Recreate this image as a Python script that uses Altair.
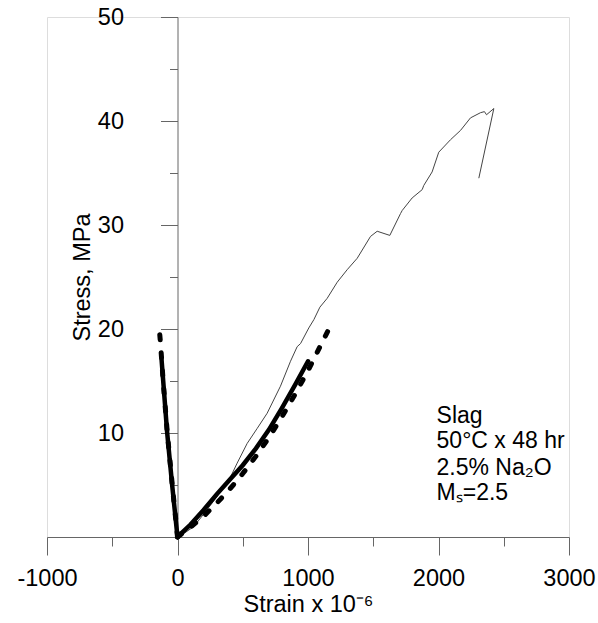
import altair as alt
import pandas as pd

FONT = "Liberation Sans"

# Thin experimental curve (axial strain)
thin_strain = [0, 50, 125, 200, 304, 400, 457, 534, 611, 687, 789, 866, 917, 943, 1006, 1045,
               1091, 1147, 1224, 1300, 1377, 1479, 1530, 1627, 1709, 1722, 1798, 1875, 1887,
               1951, 2002, 2092, 2169, 2245, 2322, 2352, 2368, 2424, 2309]
thin_stress = [0, 0.35, 1.0, 2.2, 3.9, 5.6, 7.1, 9.0, 10.45, 11.9, 14.5, 16.9, 18.3, 18.6, 20.1, 20.9,
               22.1, 22.95, 24.5, 25.7, 26.8, 28.9, 29.4, 29.0, 31.1, 31.4, 32.6, 33.4, 33.8,
               35.1, 37.0, 38.2, 39.1, 40.3, 40.8, 40.9, 40.6, 41.2, 34.5]

# Thick solid model curve
solid_axial_strain = [0, 100, 200, 300, 400, 500, 600, 700, 800, 900, 1000]
solid_axial_stress = [0, 1.2, 2.6, 4.1, 5.5, 6.9, 8.5, 10.3, 12.4, 14.6, 16.9]
solid_lateral_strain = [0, -41, -79, -123]
solid_lateral_stress = [0, 5.0, 10.0, 17.2]

# Thick dotted model curve
dot_axial_strain = [0, 100, 200, 300, 400, 500, 600, 700, 800, 900, 1000, 1100, 1180]
dot_axial_stress = [0, 0.95, 2.0, 3.25, 4.6, 6.1, 7.75, 9.55, 11.55, 13.7, 16.0, 18.5, 20.5]
dot_lateral_strain = [0, -40, -78, -110, -130, -143]
dot_lateral_stress = [0, 5.0, 10.0, 15.0, 18.6, 20.5]

note_lines = ["Slag", "50°C x 48 hr", "2.5% Na₂O", "Mₛ=2.5"]
note_strain = [1985, 1985, 1985, 1985]
note_stress = [10.96, 8.56, 5.96, 3.56]

x_ticks = [-1000, -500, 0, 500, 1000, 1500, 2000, 2500, 3000]
y_ticks = [5, 10, 15, 20, 25, 30, 35, 40, 45, 50]


def frame(xs, ys, name):
    return pd.DataFrame({"strain": xs, "stress": ys, "curve": name, "idx": list(range(len(xs)))})


x_scale = alt.Scale(domain=[-1000, 3000], nice=False, zero=False)
y_scale = alt.Scale(domain=[0, 50], nice=False, zero=False)

x_axis = alt.Axis(
    values=x_ticks,
    labelExpr="datum.value % 1000 === 0 ? '' + datum.value : ''",
    tickSize={"condition": {"test": "datum.value % 1000 === 0", "value": 18}, "value": 9},
    labelPadding=11,
    labelFont=FONT, labelFontSize=23.5, labelColor="#000",
    domainColor="#666", tickColor="#666", domainWidth=1, tickWidth=1,
    grid=False, labelFlush=False, labelOverlap=False,
    title="Strain x 10⁻⁶", titleFont=FONT, titleFontSize=23.5, titleFontWeight="normal",
    titleColor="#000", titleX=261, titleY=74, titleBaseline="alphabetic", titleAlign="center",
)
y_axis = alt.Axis(
    values=y_ticks,
    labelExpr="datum.value % 10 === 0 ? '' + datum.value : ''",
    tickSize={"condition": {"test": "datum.value % 10 === 0", "value": 17}, "value": 8},
    labelPadding=37, offset=-130.5,
    labelFont=FONT, labelFontSize=23.5, labelColor="#000",
    domainColor="#666", tickColor="#666", domainWidth=1, tickWidth=1,
    grid=False, labelOverlap=False, labelFlush=False,
    title="Stress, MPa", titleFont=FONT, titleFontSize=23.5, titleFontWeight="normal",
    titleColor="#000", titleX=-95, titleY=260, titleAngle=270,
    titleBaseline="middle", titleAlign="center",
)

thin = alt.Chart(frame(thin_strain, thin_stress, "thin")).mark_line(
    color="#444", strokeWidth=1
).encode(
    x=alt.X("strain:Q", scale=x_scale, axis=x_axis),
    y=alt.Y("stress:Q", scale=y_scale, axis=y_axis),
    order="idx:Q",
)


def dotted(xs, ys, name):
    return alt.Chart(frame(xs, ys, name)).mark_line(
        color="#000", strokeWidth=5, strokeDash=[5, 13], strokeCap="round"
    ).encode(x="strain:Q", y="stress:Q", order="idx:Q")


def solid(xs, ys, name):
    return alt.Chart(frame(xs, ys, name)).mark_line(
        color="#000", strokeWidth=4.5, strokeCap="round"
    ).encode(x="strain:Q", y="stress:Q", order="idx:Q")


notes = alt.Chart(pd.DataFrame({"strain": note_strain, "stress": note_stress, "txt": note_lines})).mark_text(
    align="left", baseline="alphabetic", font=FONT, fontSize=23, color="#000"
).encode(x="strain:Q", y="stress:Q", text="txt:N")

chart = alt.layer(
    thin,
    dotted(dot_axial_strain, dot_axial_stress, "dot_ax"),
    dotted(dot_lateral_strain, dot_lateral_stress, "dot_lat"),
    solid(solid_axial_strain, solid_axial_stress, "sol_ax"),
    solid(solid_lateral_strain, solid_lateral_stress, "sol_lat"),
    notes,
).properties(
    width=522, height=520,
    autosize=alt.AutoSizeParams(type="none"),
    padding={"left": 47, "top": 17, "right": 29, "bottom": 86},
).configure_view(stroke=None).configure(background="#ffffff")

chart.save("out.html", embed_options={"renderer": "svg", "actions": False})
